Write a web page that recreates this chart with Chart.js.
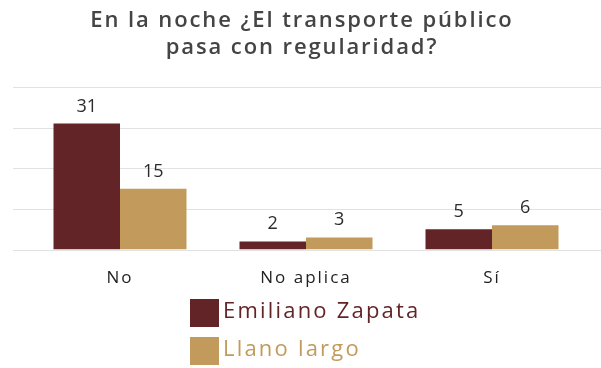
<!DOCTYPE html>
<html>
<head>
<meta charset="utf-8">
<script src="https://cdn.jsdelivr.net/npm/chart.js@4"></script>
<style>
  html, body { margin: 0; padding: 0; background: #fff; }
  #wrap { width: 601px; height: 368px; position: relative; }
</style>
</head>
<body>
<div id="wrap"><canvas id="chart"></canvas></div>
<script>
// Data
const titleLines = ['En la noche ¿El transporte público', 'pasa con regularidad?'];
const categories = ['No', 'No aplica', 'Sí'];
const seriesNames = ['Emiliano Zapata', 'Llano largo'];
const emilianoZapata = [31, 2, 5];
const llanoLargo = [15, 3, 6];
const yTicks = [0, 10, 20, 30, 40];

const MAROON = '#632428';
const TAN = '#c19a5c';

// Wide letter spacing for the axis labels (the original font is a wide one)
const spacing = {
    id: 'spacing',
    beforeDraw(chart) { chart.ctx.letterSpacing = '2px'; },
    afterDraw(chart) { chart.ctx.letterSpacing = '0px'; }
};

// Two-line title drawn by hand so it can be spaced out
const titleText = {
    id: 'titleText',
    afterDraw(chart) {
        const ctx = chart.ctx;
        ctx.save();
        ctx.letterSpacing = '1.9px';
        ctx.font = '600 22px "Open Sans"';
        ctx.fillStyle = '#444';
        ctx.textAlign = 'center';
        ctx.textBaseline = 'alphabetic';
        titleLines.forEach((line, i) => {
            ctx.fillText(line, 302, 27 + i * 27);
        });
        ctx.restore();
    }
};

// Horizontal guide lines that run wider than the plot area
const gridLines = {
    id: 'gridLines',
    beforeDatasetsDraw(chart) {
        const ctx = chart.ctx;
        const y = chart.scales.y;
        ctx.save();
        ctx.strokeStyle = '#e2e2e2';
        ctx.lineWidth = 1;
        yTicks.forEach(v => {
            const py = Math.round(y.getPixelForValue(v)) + 0.5;
            ctx.beginPath();
            ctx.moveTo(13, py);
            ctx.lineTo(601, py);
            ctx.stroke();
        });
        ctx.restore();
    }
};

// Value labels above bars
const valueLabels = {
    id: 'valueLabels',
    afterDatasetsDraw(chart) {
        const ctx = chart.ctx;
        ctx.save();
        ctx.letterSpacing = '0px';
        ctx.font = '18px "Open Sans"';
        ctx.fillStyle = '#2b2b2b';
        ctx.textAlign = 'center';
        ctx.textBaseline = 'alphabetic';
        chart.data.datasets.forEach((ds, i) => {
            chart.getDatasetMeta(i).data.forEach((bar, j) => {
                ctx.fillText(ds.data[j], bar.x, bar.y - 12);
            });
        });
        ctx.restore();
    }
};

// Stacked legend below the chart, text in the series colour
const stackedLegend = {
    id: 'stackedLegend',
    afterDraw(chart) {
        const ctx = chart.ctx;
        ctx.save();
        ctx.letterSpacing = '2.2px';
        ctx.font = '500 22px "Open Sans"';
        ctx.textBaseline = 'middle';
        ctx.textAlign = 'left';
        chart.data.datasets.forEach((ds, i) => {
            const top = 299 + i * 38;
            ctx.fillStyle = ds.backgroundColor;
            ctx.fillRect(190, top, 29, 28);
            ctx.fillText(ds.label, 223, top + 13);
        });
        ctx.restore();
    }
};

new Chart(document.getElementById('chart'), {
    type: 'bar',
    data: {
        labels: categories,
        datasets: [
            { label: seriesNames[0], data: emilianoZapata, backgroundColor: MAROON },
            { label: seriesNames[1], data: llanoLargo, backgroundColor: TAN }
        ]
    },
    options: {
        responsive: true,
        maintainAspectRatio: false,
        animation: false,
        layout: { padding: { left: 27, right: 16, top: 87, bottom: 62 } },
        datasets: {
            bar: { barPercentage: 1, categoryPercentage: 0.715 }
        },
        plugins: {
            legend: { display: false },
            tooltip: { enabled: false },
            title: { display: false }
        },
        scales: {
            x: {
                grid: { display: false, drawTicks: false },
                border: { display: false },
                ticks: {
                    color: '#222',
                    padding: 18,
                    font: { family: 'Open Sans', size: 17 }
                }
            },
            y: {
                display: false,
                min: 0,
                max: 40,
                ticks: { stepSize: 10 }
            }
        }
    },
    plugins: [spacing, gridLines, valueLabels, titleText, stackedLegend]
});
</script>
</body>
</html>
